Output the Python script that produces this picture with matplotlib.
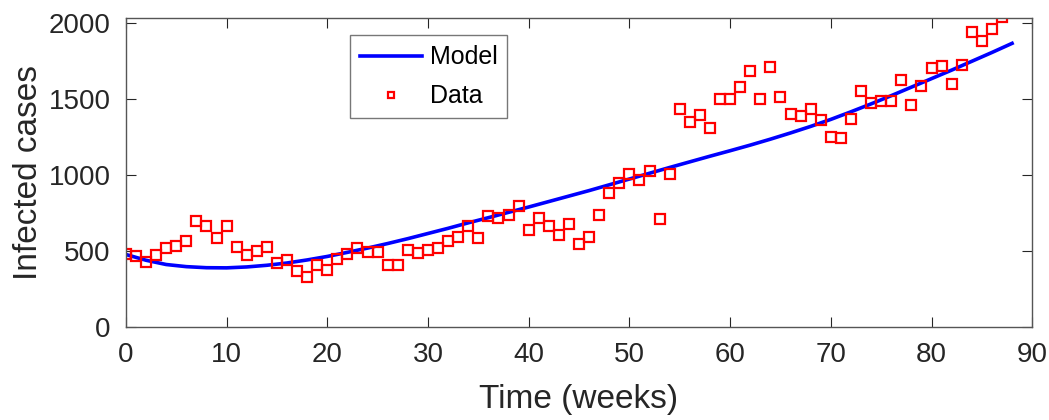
import matplotlib
matplotlib.use("Agg")
import matplotlib.pyplot as plt

weeks = list(range(88))
cases = [478, 469, 430, 474, 518, 535, 568, 697, 664, 586,
         664, 524, 472, 504, 526, 419, 441, 370, 331, 412,
         379, 447, 480, 518, 491, 491, 406, 406, 506, 485,
         507, 520, 568, 592, 667, 588, 728, 721, 737, 798,
         638, 717, 664, 607, 678, 548, 592, 735, 884, 949,
         1009, 967, 1026, 711, 1009, 1434, 1351, 1393, 1308, 1503,
         1502, 1577, 1684, 1500, 1708, 1513, 1399, 1388, 1436, 1364,
         1248, 1241, 1371, 1551, 1472, 1485, 1485, 1625, 1461, 1588,
         1702, 1717, 1601, 1722, 1939, 1880, 1961, 2038]

model_t = [0, 2, 4, 6, 8, 10, 12, 14, 16, 18, 20, 22, 24, 26, 28, 30, 32, 34, 36, 38,
           40, 42, 44, 46, 48, 50, 52, 54, 56, 58, 60, 62, 64, 66, 68, 70, 72, 74, 76,
           78, 80, 82, 84, 86, 88]
model_v = [478, 440, 412, 398, 391, 390, 396, 407, 422, 442, 465, 492, 520, 550, 582,
           616, 650, 686, 720, 755, 790, 826, 862, 898, 936, 974, 1012, 1050, 1087, 1124,
           1160, 1197, 1236, 1277, 1320, 1366, 1416, 1468, 1522, 1578, 1634, 1690, 1748,
           1806, 1866]

xticks = [0, 10, 20, 30, 40, 50, 60, 70, 80, 90]
yticks = [0, 500, 1000, 1500, 2000]

plt.rcParams['font.family'] = ['Liberation Sans', 'DejaVu Sans']

fig = plt.figure(figsize=(10.49, 4.2), dpi=100)
ax = fig.add_axes([0.120, 0.221, 0.864, 0.737])

ax.plot(model_t, model_v, color='#0000ff', lw=2.6, label='Model',
        solid_joinstyle='round')
ax.plot(weeks, cases, ls='none', marker='s', ms=7.5, mfc='none', mec='#ff0000',
        mew=1.6, label='Data')

ax.set_xlim(0, 90)
ax.set_ylim(0, 2035)
ax.set_xticks(xticks)
ax.set_yticks(yticks)
ax.tick_params(direction='in', length=7, width=0.8, top=True, right=True,
               labelsize=20, colors='#262626')
ax.tick_params(axis='x', pad=11)
ax.tick_params(axis='y', pad=11)
for s in ax.spines.values():
    s.set_color('#555555')
    s.set_linewidth(1.0)

ax.set_xlabel('Time (weeks)', fontsize=24, color='#262626', labelpad=11)
ax.set_ylabel('Infected cases', fontsize=24, color='#262626', labelpad=3)

leg = ax.legend(loc='upper left', bbox_to_anchor=(0.247, 0.943), fontsize=18,
                frameon=True, fancybox=False, edgecolor='#555555', handlelength=2.5,
                markerscale=0.6, borderpad=0.4, labelspacing=0.6, handletextpad=0.3,
                borderaxespad=0)
leg.get_frame().set_linewidth(1.0)

fig.savefig('out.png', dpi=100)
